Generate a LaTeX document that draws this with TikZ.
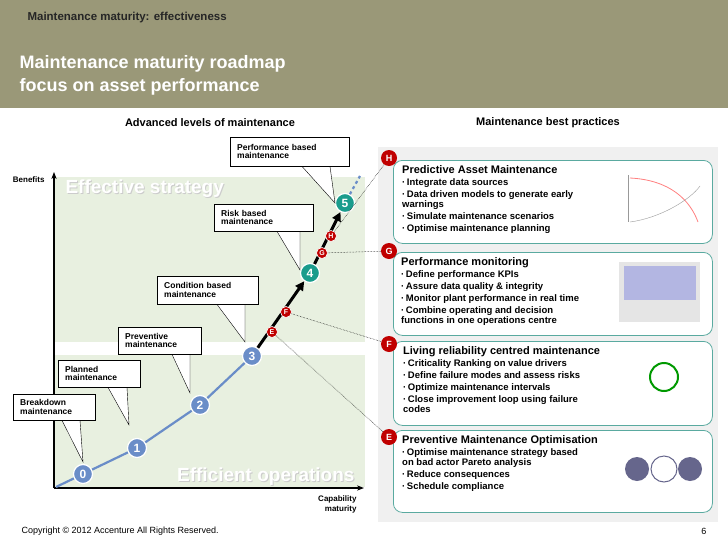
\documentclass[tikz,border=0pt]{standalone}
\usepackage{fontspec}
\setmainfont{Liberation Sans}
\usetikzlibrary{positioning,calc,arrows.meta}
\definecolor{olive}{RGB}{154,152,120}
\definecolor{chartgreen}{RGB}{232,240,224}
\definecolor{stepblue}{RGB}{106,141,200}
\definecolor{stepteal}{RGB}{26,156,140}
\definecolor{badgered}{RGB}{192,0,0}
\definecolor{panelgrey}{RGB}{240,240,240}
\definecolor{boxteal}{RGB}{90,170,160}
\newcommand{\pdot}{\textbf{·}\,}
\tikzset{
  stepdot/.style={circle, draw=white, line width=1.2pt, minimum size=19pt, inner sep=0pt, text=white, font=\bfseries\fontsize{12}{12}\selectfont},
  reddot/.style={circle, draw=white, line width=0.6pt, fill=badgered, minimum size=11pt, inner sep=0pt, text=white, font=\bfseries\fontsize{7}{7}\selectfont},
  badge/.style={circle, fill=badgered, minimum size=16pt, inner sep=0pt, text=white, font=\bfseries\fontsize{9}{9}\selectfont},
  callout/.style={draw, fill=white, align=left, inner xsep=7pt, inner ysep=3pt, anchor=north west, font=\bfseries\fontsize{8.5}{8.5}\selectfont},
  practice/.style={draw=boxteal, line width=0.8pt, rounded corners=9pt, fill=white, minimum width=319pt, anchor=north west},
  ptext/.style={anchor=north west, align=left, inner sep=0pt, font=\bfseries\fontsize{9.5}{10}\selectfont},
  link/.style={densely dotted, line width=0.5pt},
  bigword/.style={text=white, font=\bfseries\fontsize{19}{19}\selectfont, anchor=west}
}
\begin{document}
\begin{tikzpicture}[x=1pt,y=-1pt]
    \useasboundingbox (0,0) rectangle (728,546);
    \fill[white] (0,0) rectangle (728,546);

    % Header
    \fill[olive] (0,0) rectangle (728,108);
    \node[anchor=west, font=\bfseries\fontsize{11.5}{11.5}\selectfont, text=black!85] (sect) at (24,18) {Maintenance maturity: effectiveness};
    \node[anchor=north west, align=left, text=white, font=\bfseries\fontsize{18}{23}\selectfont] (title) at (16,52) {Maintenance maturity roadmap\\focus on asset performance};
    \node[font=\bfseries\fontsize{11}{11}\selectfont] (lhead) at (210,123) {Advanced levels of maintenance};
    \node[font=\bfseries\fontsize{11}{11}\selectfont] (rhead) at (548,123) {Maintenance best practices};

    % Chart background
    \fill[chartgreen] (55,177) rectangle (365,342);
    \fill[chartgreen] (55,355) rectangle (365,487);
    \node[bigword, text=black!20] (effsh) at (63,190) {Effective strategy};
    \node[bigword] (eff) at (62,189) {Effective strategy};
    \node[bigword, anchor=east, text=black!20] (effopsh) at (359,478) {Efficient operations};
    \node[bigword, anchor=east] (effop) at (358,477) {Efficient operations};

    % Axes
    \coordinate (o) at (54,488);
    \coordinate (ytop) at (54,172);
    \coordinate (xend) at (364,488);
    \draw[line width=1.2pt, -{Stealth[length=7pt]}] (o) -- (ytop);
    \draw[line width=1.2pt, -{Stealth[length=7pt]}] (o) -- (xend);
    \node[anchor=east, font=\bfseries\fontsize{8}{8}\selectfont] (ben) at (48,180) {Benefits};
    \node[anchor=north east, align=right, font=\bfseries\fontsize{8}{10}\selectfont] (cap) at (360,492) {Capability\\maturity};

    % Steps
    \node[stepdot, fill=stepblue] (s0) at (83,474) {0};
    \node[stepdot, fill=stepblue] (s1) at (137,448) {1};
    \node[stepdot, fill=stepblue] (s2) at (200,405) {2};
    \node[stepdot, fill=stepblue] (s3) at (252,356) {3};
    \node[stepdot, fill=stepteal] (s4) at (310,273) {4};
    \node[stepdot, fill=stepteal] (s5) at (345,203) {5};
    \coordinate (cstart) at (56,487);
    \coordinate (cend) at (360,176);

    % Curve
    \draw[stepblue, line width=2.2pt] (cstart) -- (s0) -- (s1) -- (s2) -- (s3);
    \draw[stepblue, line width=2.2pt, dashed] (s5) -- (cend);
    \draw[line width=3pt, -{Triangle[length=9pt,width=9pt]}] (s3) -- (s4);
    \draw[line width=3pt, -{Triangle[length=9pt,width=9pt]}] (s4) -- (s5);

    % Red markers
    \node[reddot] (e) at (272,332) {E};
    \node[reddot] (f) at (286,312) {F};
    \node[reddot] (g) at (322,253) {G};
    \node[reddot] (h) at (331,236) {H};

    % Callouts
    \node[callout, text width=68pt, minimum height=26pt] (c0) at (13,394) {Breakdown\\maintenance};
    \node[callout, text width=68pt, minimum height=27pt] (c1) at (58,360) {Planned\\maintenance};
    \node[callout, text width=69pt, minimum height=27pt] (c2) at (118,327) {Preventive\\maintenance};
    \node[callout, text width=87pt, minimum height=28pt] (c3) at (157,276) {Condition based\\maintenance};
    \node[callout, text width=85pt, minimum height=27pt] (c4) at (214,204) {Risk based\\maintenance};
    \node[callout, text width=105pt, minimum height=29pt] (c5) at (230,137) {Performance based\\maintenance};
    \foreach \cn/\xa/\xb/\tx/\ty in {c0/62/80/83/462, c1/108/127/129/425, c2/172/190/190/393, c3/217/245/245/342, c4/277/300/300/270, c5/302/330/335/203} {
      \coordinate (pa) at (\xa,0);
      \coordinate (pb) at (\xb,0);
      \fill[white] ([yshift=-0.8pt]pa |- \cn.south) -- (\tx,\ty) -- ([yshift=-0.8pt]pb |- \cn.south) -- cycle;
      \draw (pa |- \cn.south) -- (\tx,\ty) -- (pb |- \cn.south);
    }

    % Best practices panel
    \fill[panelgrey] (378,147) rectangle (718,522);
    \node[practice, minimum height=83pt] (ph) at (393,160) {};
    \node[practice, minimum height=83pt] (pg) at (393,252) {};
    \node[practice, minimum height=84pt] (pf) at (393,341) {};
    \node[practice, minimum height=82pt] (pe) at (393,430) {};
    \node[badge] (bh) at (389,158) {H};
    \node[badge] (bg) at (389,251) {G};
    \node[badge] (bf) at (389,344) {F};
    \node[badge] (be) at (389,437) {E};

    \node[ptext] (th) at (402,165) {{\fontsize{11}{11}\selectfont Predictive Asset Maintenance}\\[2pt]
      \pdot Integrate data sources\\[2pt]
      \pdot Data driven models to generate early\\warnings\\[2pt]
      \pdot Simulate maintenance scenarios\\[2pt]
      \pdot Optimise maintenance planning};
    \node[ptext] (tg) at (401,257) {{\fontsize{11}{11}\selectfont Performance monitoring}\\[2pt]
      \pdot Define performance KPIs\\[2pt]
      \pdot Assure data quality \& integrity\\[2pt]
      \pdot Monitor plant performance in real time\\[2pt]
      \pdot Combine operating and decision\\functions in one operations centre};
    \node[ptext] (tf) at (403,346) {{\fontsize{11}{11}\selectfont Living reliability centred maintenance}\\[2pt]
      \pdot Criticality Ranking on value drivers\\[2pt]
      \pdot Define failure modes and assess risks\\[2pt]
      \pdot Optimize maintenance intervals\\[2pt]
      \pdot Close improvement loop using failure\\codes};
    \node[ptext] (te) at (402,435) {{\fontsize{11}{11}\selectfont Preventive Maintenance Optimisation}\\[2pt]
      \pdot Optimise maintenance strategy based\\on bad actor Pareto analysis\\[2pt]
      \pdot Reduce consequences\\[2pt]
      \pdot Schedule compliance};

    % Pictures
    \fill[white] (620,172) rectangle (703,224);
    \draw[red!50, line width=0.8pt] (630,178) .. controls (670,180) and (690,200) .. (698,222);
    \draw[black!40] (630,222) .. controls (660,218) and (690,200) .. (700,186);
    \draw[black!40] (628,175) -- (628,222);
    \fill[black!10] (619,262) rectangle (700,322);
    \fill[cyan!25!blue!30] (624,266) rectangle (696,300);
    \fill[white] (632,354) rectangle (698,401);
    \draw[green!60!black, line width=2pt] (664,377) circle (14pt);
    \fill[black!75!blue!60] (637,469) circle (12pt);
    \fill[black!75!blue!60] (690,469) circle (12pt);
    \draw[black!75!blue!60, fill=white, line width=1pt] (664,469) circle (13pt);

    % Links
    \draw[link] (h) -- (bh);
    \draw[link] (g) -- (bg);
    \draw[link] (f) -- (bf);
    \draw[link] (e) -- (be);

    % Footer
    \node[anchor=west, font=\fontsize{9}{9}\selectfont] (copy) at (18,531) {Copyright © 2012 Accenture All Rights Reserved.};
    \node[anchor=east, font=\fontsize{9}{9}\selectfont] (page) at (710,531) {6};
\end{tikzpicture}
\end{document}
